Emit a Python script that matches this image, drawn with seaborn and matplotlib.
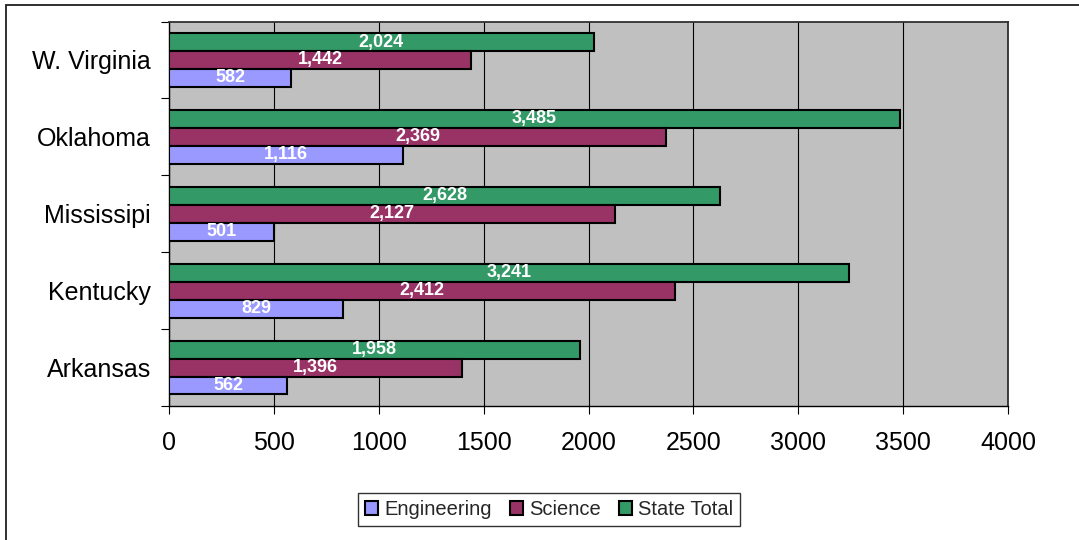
import matplotlib
matplotlib.use("Agg")
import matplotlib.pyplot as plt
from matplotlib.patches import Rectangle, Patch
from matplotlib.ticker import MultipleLocator, FixedLocator
import seaborn as sns
import pandas as pd

# Data
states = ["W. Virginia", "Oklahoma", "Mississipi", "Kentucky", "Arkansas"]
engineering = [582, 1116, 501, 829, 562]
science = [1442, 2369, 2127, 2412, 1396]
state_total = [2024, 3485, 2628, 3241, 1958]
x_ticks = [0, 500, 1000, 1500, 2000, 2500, 3000, 3500, 4000]

series_names = ["Engineering", "Science", "State Total"]
colors = {"Engineering": "#9999FF", "Science": "#993366", "State Total": "#339966"}

rows = []
for name, vals in zip(series_names, [engineering, science, state_total]):
    for st, v in zip(states, vals):
        rows.append({"State": st, "Series": name, "Value": v})
df = pd.DataFrame(rows)

sns.set_theme(style="white")
plt.rcParams["font.family"] = ["Liberation Sans", "DejaVu Sans"]

fig = plt.figure(figsize=(10.79, 5.40), dpi=100)
ax = fig.add_axes([169 / 1079, 1 - 406 / 540, (1008 - 169) / 1079, (406 - 21.5) / 540])
ax.set_facecolor("#C0C0C0")

draw_order = ["State Total", "Science", "Engineering"]
sns.barplot(data=df, y="State", x="Value", hue="Series", order=states,
            hue_order=draw_order, palette=colors, orient="h", width=0.7,
            edgecolor="black", linewidth=1.5, saturation=1, gap=0,
            ax=ax, legend=False, zorder=3)

# Value labels in the middle of every bar
for cont in ax.containers:
    for rect in cont:
        w = rect.get_width()
        ax.text(w / 2, rect.get_y() + rect.get_height() / 2, f"{int(round(w)):,}",
                ha="center", va="center", color="white", fontweight="bold",
                fontsize=13, zorder=4)

ax.set_xlim(0, 4000)
ax.set_ylim(len(states) - 0.5, -0.5)
ax.xaxis.set_major_locator(FixedLocator(x_ticks))
ax.set_xticklabels([str(t) for t in x_ticks])
ax.grid(axis="x", color="black", linewidth=0.8, zorder=1)
ax.set_axisbelow(True)

ax.yaxis.set_minor_locator(MultipleLocator(1, offset=0.5))
ax.tick_params(axis="y", which="major", length=0, pad=13, labelsize=18, labelcolor="black")
ax.tick_params(axis="y", which="minor", left=True, length=6, width=0.8, color="black")
ax.tick_params(axis="x", which="major", bottom=True, length=6, width=0.8, color="black",
               pad=12, labelsize=18, labelcolor="black")
ax.set_xlabel("")
ax.set_ylabel("")

for side in ["left", "bottom"]:
    ax.spines[side].set_color("black")
    ax.spines[side].set_linewidth(1.0)
for side in ["top", "right"]:
    ax.spines[side].set_color("#303030")
    ax.spines[side].set_linewidth(1.3)
    ax.spines[side].set_visible(True)

# Legend
handles = [Patch(facecolor=colors[n], edgecolor="black", linewidth=1.5) for n in series_names]
leg = fig.legend(handles, series_names, loc="center", bbox_to_anchor=(549 / 1079, 1 - 509.5 / 540),
                 ncol=3, frameon=True, fontsize=14.5, handlelength=0.65, handleheight=0.65,
                 handletextpad=0.3, columnspacing=0.9, borderpad=0.35, fancybox=False)
leg.get_frame().set_edgecolor("black")
leg.get_frame().set_linewidth(1.0)

# Outer frame of the chart
fig.patches.append(Rectangle((6 / 1079, -0.1), 1.2, 1 - 5 / 540 + 0.1, transform=fig.transFigure,
                             fill=False, edgecolor="#202020", linewidth=1.3, clip_on=False))

fig.savefig("out.png", dpi=100)
